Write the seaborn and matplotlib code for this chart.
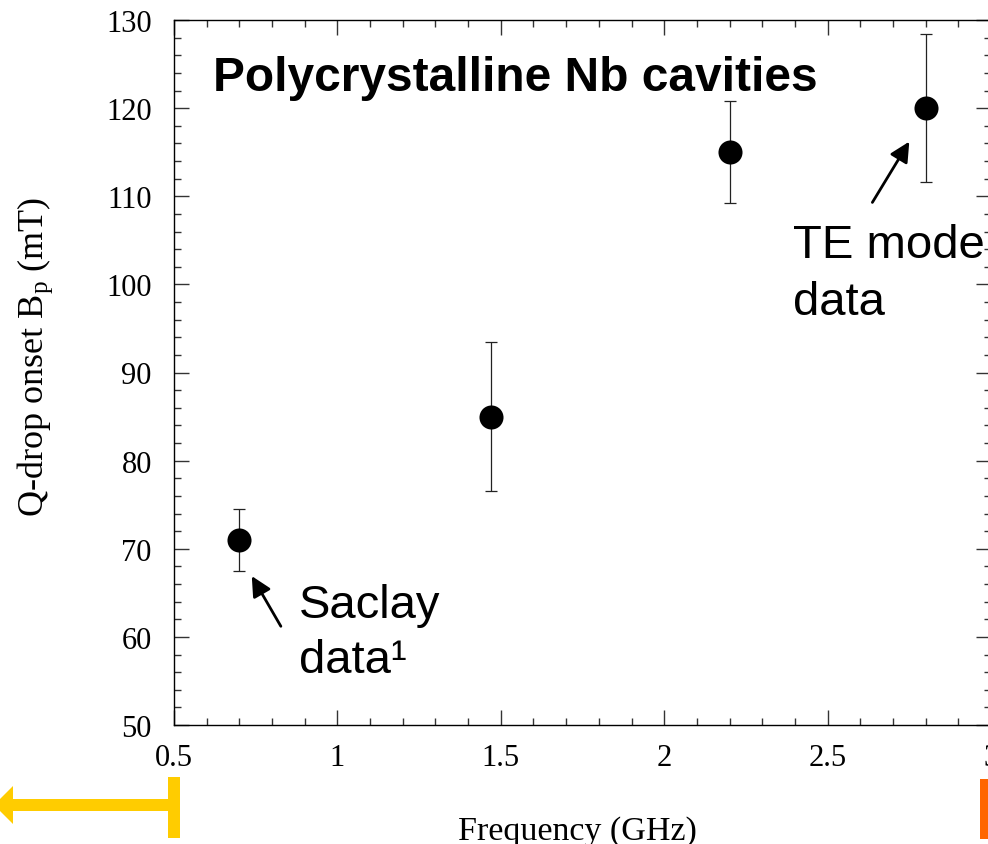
import matplotlib
matplotlib.use("Agg")
import matplotlib.pyplot as plt
import pandas as pd
import seaborn as sns
from matplotlib.patches import Rectangle, Polygon
from matplotlib.ticker import MultipleLocator

# Q-drop onset field vs. cavity frequency (polycrystalline Nb)
freq_ghz = [0.70, 1.47, 2.20, 2.80]
onset_mt = [71.0, 85.0, 115.0, 120.0]
err_mt = [3.5, 8.5, 5.8, 8.4]

x_ticks = [0.5, 1.0, 1.5, 2.0, 2.5, 3.0]
x_tick_labels = ["0.5", "1", "1.5", "2", "2.5", "3"]
y_ticks = [50, 60, 70, 80, 90, 100, 110, 120, 130]

df = pd.DataFrame({"freq": freq_ghz, "onset": onset_mt, "err": err_mt})

sns.set_theme(style="ticks")
plt.rcParams["font.family"] = ["Liberation Serif", "DejaVu Serif"]
plt.rcParams["mathtext.fontset"] = "custom"
plt.rcParams["mathtext.rm"] = "Liberation Serif"
plt.rcParams["mathtext.it"] = "Liberation Serif:italic"
for key in ("text.color", "axes.labelcolor", "xtick.color", "ytick.color",
            "axes.edgecolor"):
    plt.rcParams[key] = "black"

W, H = 988, 845
AX_L, AX_R, AX_T, AX_B = 174, 991, 21, 726
fig = plt.figure(figsize=(W / 100, H / 100), dpi=100)
ax = fig.add_axes([AX_L / W, (H - AX_B) / H, (AX_R - AX_L) / W, (AX_B - AX_T) / H])

ax.errorbar(df["freq"], df["onset"], yerr=df["err"], fmt="none",
            ecolor="#222222", elinewidth=0.9, capsize=4.2, capthick=0.9, zorder=2)
sns.scatterplot(data=df, x="freq", y="onset", ax=ax, s=300, color="black",
                edgecolor="black", linewidth=0, zorder=3, legend=False)

ax.set_xlim(0.5, 3.0)
ax.set_ylim(50, 130)
ax.set_xticks(x_ticks)
ax.set_xticklabels(x_tick_labels)
ax.set_yticks(y_ticks)
ax.xaxis.set_minor_locator(MultipleLocator(0.1))
ax.yaxis.set_minor_locator(MultipleLocator(2))
ax.tick_params(which="both", direction="in", top=True, right=True,
               color="#333333", width=1.0, labelcolor="black")
ax.tick_params(which="major", length=10.5)
ax.tick_params(which="minor", length=5)
ax.tick_params(axis="x", which="major", labelsize=22, pad=13)
ax.tick_params(axis="y", which="major", labelsize=22, pad=16)
for side in ax.spines.values():
    side.set_linewidth(1.0)
    side.set_color("black")
    side.set_visible(True)

ax.set_xlabel("Frequency (GHz)", fontsize=24.5, color="black")
ax.xaxis.label.set_va("baseline")
ax.xaxis.set_label_coords((577 - AX_L) / (AX_R - AX_L), -(840 - AX_B) / (AX_B - AX_T))
ax.set_ylabel("")
fig.text(43 / W, (H - 357) / H, r"Q-drop onset B$_{\mathregular{p}}$ (mT)",
         fontsize=26, rotation=90, rotation_mode="anchor",
         ha="center", va="baseline", color="black")

sans = ["Liberation Sans", "DejaVu Sans"]
fig.text(213 / W, (H - 91) / H, "Polycrystalline Nb cavities",
         family=sans, fontweight="bold", fontsize=34.5, va="baseline",
         color="black")

arrow = dict(arrowstyle="-|>", color="black", lw=2, mutation_scale=30,
             shrinkA=0, shrinkB=0)
ax.annotate("", xy=(2.750, 116.2), xytext=(2.637, 109.3), arrowprops=arrow)
ax.annotate("", xy=(0.738, 66.9), xytext=(0.827, 61.2), arrowprops=arrow)

note = dict(family=sans, fontsize=34, va="baseline", color="black")
ax.text(2.393, 103.1, "TE mode", **note)
ax.text(2.393, 96.6, "data", **note)
ax.text(0.882, 62.2, "Saclay", **note)
ax.text(0.882, 56.0, "data¹", **note)


def px(x, y):
    return (x / W, (H - y) / H)


yellow = "#FFCC00"
orange = "#FF6600"
shaft = Rectangle(px(12, 812), (170 - 12) / W, 12 / H, transform=fig.transFigure,
                  color=yellow, lw=0)
bar = Rectangle(px(168, 839), 12 / W, 61 / H, transform=fig.transFigure,
                color=yellow, lw=0)
head = Polygon([px(-6, 806), px(13, 787), px(13, 825)], closed=True,
               transform=fig.transFigure, color=yellow, lw=0)
right_bar = Rectangle(px(980, 840), 12 / W, 60 / H, transform=fig.transFigure,
                      color=orange, lw=0)
for p in (shaft, bar, head, right_bar):
    fig.add_artist(p)

fig.savefig("out.png", dpi=100)
